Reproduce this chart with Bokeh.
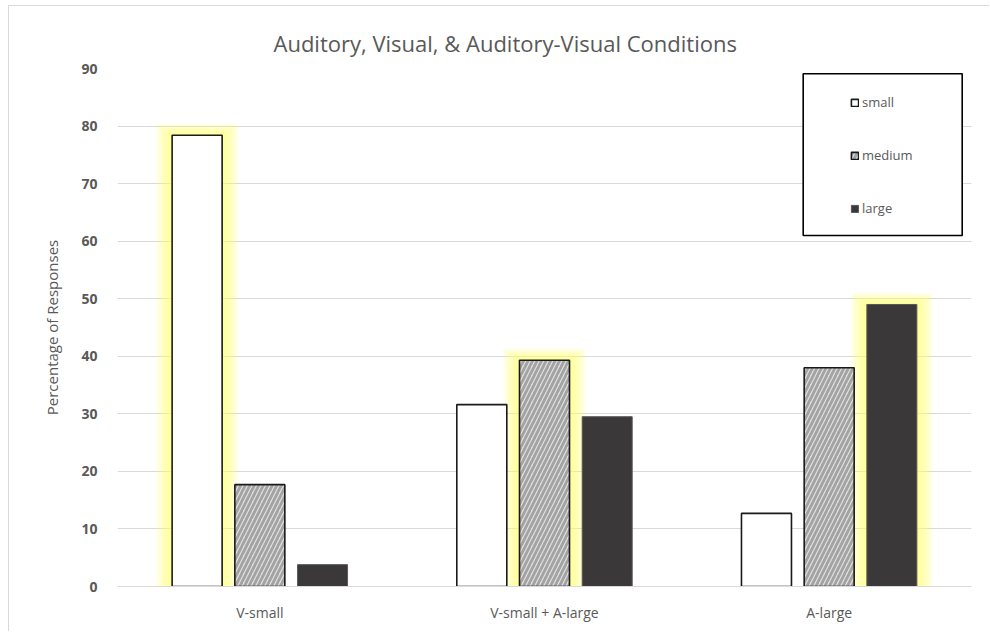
from bokeh.plotting import figure
from bokeh.models import (Range1d, FixedTicker, Legend, LegendItem, BoxAnnotation)
from bokeh.embed import file_html
from bokeh.resources import INLINE

# ---- data -------------------------------------------------------------
categories = ["V-small", "V-small + A-large", "A-large"]
sizes = ["small", "medium", "large"]
small_vals = [78.4, 31.6, 12.7]
medium_vals = [17.7, 39.3, 38.0]
large_vals = [3.8, 29.5, 49.0]
y_ticks = [0, 10, 20, 30, 40, 50, 60, 70, 80, 90]
title_text = "Auditory, Visual, & Auditory-Visual  Conditions"

series = [small_vals, medium_vals, large_vals]

# ---- layout constants (pixels) ---------------------------------------
FRAME_W, FRAME_H = 854, 518
BORDER_L, BORDER_R, BORDER_T, BORDER_B = 108, 19, 62, 46
W = BORDER_L + FRAME_W + BORDER_R
H = BORDER_T + FRAME_H + BORDER_B

GRAY_TXT = "#595959"
GRID = "#d9d9d9"
FONT = "Open Sans"

n_cat = len(categories)
p = figure(width=W, height=H, output_backend="svg", toolbar_location=None,
           x_range=Range1d(0, n_cat), y_range=Range1d(0, 90),
           min_border_left=BORDER_L, min_border_right=BORDER_R,
           min_border_top=BORDER_T, min_border_bottom=BORDER_B,
           title=title_text)
p.styles = {"margin-left": "8px", "margin-top": "5px",
            "border-left": f"1px solid {GRID}", "border-top": f"1px solid {GRID}"}
p.outline_line_color = None
p.background_fill_color = "white"
p.border_fill_color = "white"

# title sits left of the frame centre, so anchor it from the left
p.title.align = "left"
p.title.offset = 156
p.title.standoff = 22
p.title.text_font = FONT
p.title.text_font_size = "22px"
p.title.text_font_style = "normal"
p.title.text_color = GRAY_TXT

# bar geometry in category units
px_x = n_cat / FRAME_W          # data units per horizontal pixel
px_y = 90 / FRAME_H             # data units per vertical pixel
bar_w = 50 * px_x
step = 62.7 * px_x
offsets = [-step, 0.0, step]
centers = [i + 0.5 for i in range(n_cat)]

# soft yellow glow behind the tallest bar of each group
glow_x, glow_top = [], []
for ci in range(n_cat):
    vals = [s[ci] for s in series]
    k = vals.index(max(vals))
    glow_x.append(centers[ci] + offsets[k])
    glow_top.append(vals[k])
for g in range(9, 0, -1):
    p.vbar(x=glow_x, width=bar_w + 2 * g * 1.8 * px_x,
           top=[t + g * 1.3 * px_y for t in glow_top], bottom=0,
           fill_color="#ffff70", fill_alpha=0.12, line_color=None)

styles = [
    dict(fill_color="white", line_color="#1a1a1a", line_width=1.6),
    dict(fill_color="#e0e0e0", line_color="#1a1a1a", line_width=1.6,
         hatch_pattern="right_diagonal_line", hatch_color="#a3a3a3",
         hatch_scale=9, hatch_weight=2.8),
    dict(fill_color="#3a3838", line_color="#5a5858", line_width=1),
]

renderers = []
for s_vals, off, st in zip(series, offsets, styles):
    r = p.vbar(x=[c + off for c in centers], width=bar_w, top=s_vals, bottom=0, **st)
    renderers.append(r)

# axes
p.xaxis.ticker = FixedTicker(ticks=centers)
p.xaxis.major_label_overrides = {c: lab for c, lab in zip(centers, categories)}
p.yaxis.ticker = FixedTicker(ticks=y_ticks)
for ax in (p.xaxis[0], p.yaxis[0]):
    ax.major_tick_line_color = None
    ax.minor_tick_line_color = None
    ax.major_label_text_font = FONT
    ax.major_label_text_color = GRAY_TXT
p.xaxis.major_label_text_font_size = "14px"
p.yaxis.major_label_text_font_size = "14px"
p.xaxis.axis_line_color = GRID
p.yaxis.axis_line_color = None
p.xaxis.major_label_standoff = 10
p.yaxis.major_label_standoff = 14
p.yaxis.major_label_text_font_style = "bold"
p.yaxis.axis_label = "Percentage of Responses"
p.yaxis.axis_label_text_font = FONT
p.yaxis.axis_label_text_font_size = "15px"
p.yaxis.axis_label_text_font_style = "normal"
p.yaxis.axis_label_text_color = GRAY_TXT
p.yaxis.axis_label_standoff = 16

p.xgrid.grid_line_color = None
p.ygrid.grid_line_color = GRID
p.ygrid.grid_line_width = 1

# legend frame
frame = BoxAnnotation(left=(802.7 - 117) * px_x, right=(961.7 - 117) * px_x,
                      top=90 - (73.3 - 68) * px_y, bottom=90 - (235 - 68) * px_y,
                      fill_color="white", fill_alpha=1.0,
                      line_color="black", line_alpha=1.0, line_width=1.6)
p.add_layout(frame)

legend = Legend(items=[LegendItem(label=s, renderers=[r]) for s, r in zip(sizes, renderers)],
                location=(733, 369), orientation="vertical",
                padding=0, spacing=35, margin=0,
                glyph_width=9, glyph_height=9, label_standoff=3,
                label_height=12, label_width=20,
                label_text_font=FONT, label_text_font_size="13px",
                label_text_color=GRAY_TXT,
                border_line_color=None, background_fill_alpha=0.0)
p.add_layout(legend)

open("out.html", "w").write(file_html(p, INLINE))
